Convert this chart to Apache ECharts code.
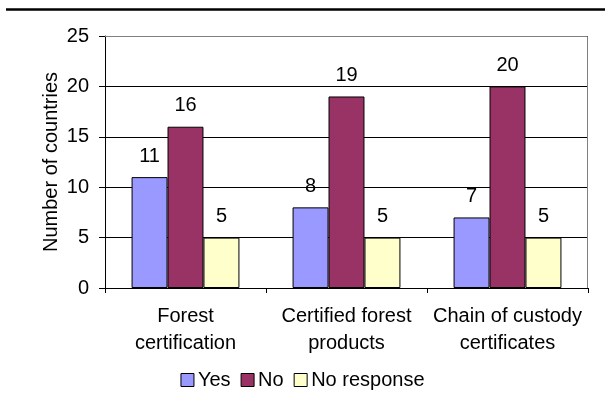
<!DOCTYPE html>
<html>
<head>
<meta charset="utf-8">
<style>
  html, body { margin: 0; padding: 0; background: #fff; }
  #chart { width: 605px; height: 405px; }
</style>
<script src="https://cdn.jsdelivr.net/npm/echarts@6/dist/echarts.min.js"></script>
</head>
<body>
<div id="chart"></div>
<script>
// Survey answers per certification topic
const categories = ['Forest\ncertification', 'Certified forest\nproducts', 'Chain of custody\ncertificates'];
const yesValues = [11, 8, 7];
const noValues = [16, 19, 20];
const noResponseValues = [5, 5, 5];
const seriesNames = ['Yes', 'No', 'No response'];
const yTicks = { min: 0, max: 25, interval: 5 };

const FONT = '"Liberation Sans", Arial, sans-serif';
const FONT_SIZE = 20;
const colors = ['#9999FF', '#993366', '#FFFFCC'];

function barSeries(name, data, color) {
  return {
    name: name,
    type: 'bar',
    data: data,
    barGap: '0%',
    barCategoryGap: '33%',
    itemStyle: { color: color, borderColor: '#000', borderWidth: 1 },
    label: {
      show: true,
      position: 'top',
      distance: 11,
      color: '#000',
      fontFamily: FONT,
      fontSize: FONT_SIZE
    }
  };
}

const chart = echarts.init(document.getElementById('chart'), null, { renderer: 'canvas' });
chart.setOption({
  animation: false,
  backgroundColor: '#fff',
  textStyle: { fontFamily: FONT },
  graphic: [{
    type: 'line',
    shape: { x1: 6, y1: 9.5, x2: 605, y2: 9.5 },
    style: { stroke: '#000', lineWidth: 2.5 }
  }, {
    // plot frame, top and right edges
    type: 'polyline',
    shape: { points: [[105, 36.5], [587.5, 36.5], [587.5, 288]] },
    style: { stroke: '#808080', lineWidth: 1, fill: null },
    z: 1
  }],
  grid: { left: 105, right: 17, top: 36, bottom: 117, containLabel: false },
  legend: {
    data: seriesNames,
    bottom: 10,
    left: 'center',
    itemWidth: 13,
    itemHeight: 13,
    itemGap: 10,
    icon: 'rect',
    textStyle: { fontFamily: FONT, fontSize: FONT_SIZE, color: '#000', padding: [0, 0, 0, -1] },
    itemStyle: { borderColor: '#000', borderWidth: 1 }
  },
  xAxis: {
    type: 'category',
    data: categories,
    axisLine: { lineStyle: { color: '#000', width: 1 } },
    axisTick: { show: true, length: 5, lineStyle: { color: '#000' } },
    axisLabel: {
      color: '#000', fontFamily: FONT, fontSize: FONT_SIZE, lineHeight: 27, margin: 15, interval: 0
    }
  },
  yAxis: {
    type: 'value',
    min: yTicks.min,
    max: yTicks.max,
    interval: yTicks.interval,
    name: 'Number of countries',
    nameLocation: 'middle',
    nameGap: 44,
    nameMoveOverlap: false,
    nameTextStyle: { color: '#000', fontFamily: FONT, fontSize: FONT_SIZE },
    axisLine: { show: true, lineStyle: { color: '#000', width: 1 } },
    axisTick: { show: true, length: 6, lineStyle: { color: '#000' } },
    axisLabel: { color: '#000', fontFamily: FONT, fontSize: FONT_SIZE, margin: 16 },
    splitLine: { show: true, lineStyle: { color: '#000', width: 1 } }
  },
  series: [
    barSeries(seriesNames[0], yesValues, colors[0]),
    barSeries(seriesNames[1], noValues, colors[1]),
    barSeries(seriesNames[2], noResponseValues, colors[2])
  ]
});
</script>
</body>
</html>
